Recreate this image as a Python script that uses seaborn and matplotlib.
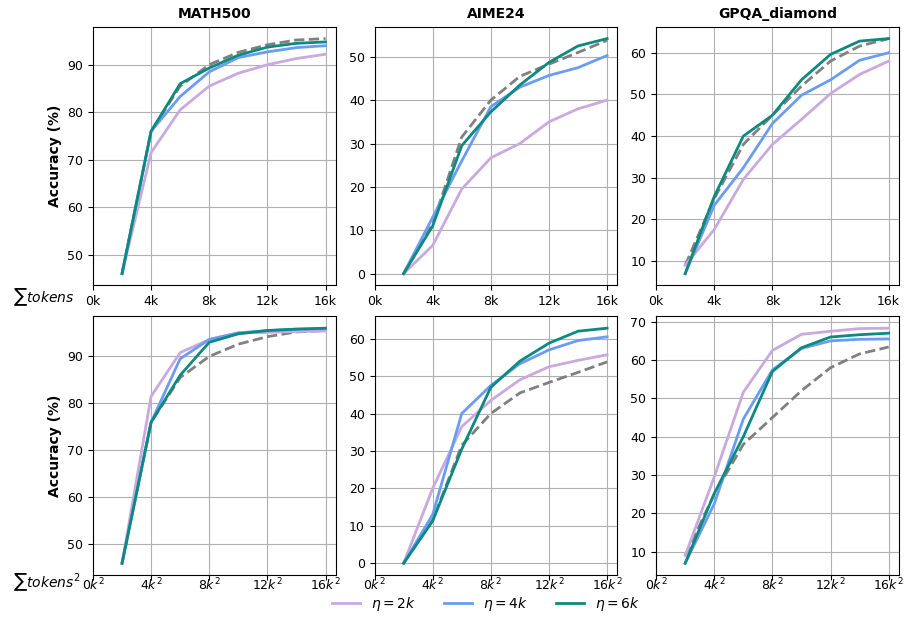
import numpy as np
import pandas as pd
import matplotlib
matplotlib.use('Agg')
import matplotlib.pyplot as plt
import seaborn as sns
from matplotlib.lines import Line2D

# budgets (k tokens)
budget = [2, 4, 6, 8, 10, 12, 14, 16]
datasets = ['MATH500', 'AIME24', 'GPQA_diamond']
etas = ['$\\eta=2k$', '$\\eta=4k$', '$\\eta=6k$']

# baseline (dashed), same in both rows
base_math = [46, 76, 85.5, 90, 92.6, 94.2, 95.2, 95.5]
base_aime = [0, 11.5, 31.5, 40, 45.5, 48.3, 51, 53.8]
base_gpqa = [9, 25, 38, 45, 52, 58, 61.6, 63.4]

# top row: sum tokens
top_math_2k = [46, 71.5, 80.5, 85.5, 88.2, 90, 91.3, 92.2]
top_math_4k = [46, 76, 83.3, 88.5, 91.5, 92.7, 93.6, 94.0]
top_math_6k = [46, 76, 86, 89.3, 92.0, 93.7, 94.5, 94.8]

top_aime_2k = [0, 6.5, 19.5, 26.7, 30, 35, 38, 40]
top_aime_4k = [0, 13, 26, 38.5, 43, 45.7, 47.5, 50.3]
top_aime_6k = [0, 11, 29.5, 37.3, 43.5, 48.7, 52.5, 54.2]

top_gpqa_2k = [9, 17.6, 29.6, 38, 44, 50.2, 54.8, 58]
top_gpqa_4k = [7, 23.4, 32.4, 43, 49.8, 53.5, 58.2, 60]
top_gpqa_6k = [7, 25.5, 40, 45, 53.5, 59.6, 62.8, 63.4]

# bottom row: sum tokens^2
bot_math_2k = [46, 81.5, 90.8, 93.6, 95, 95.1, 95.3, 95.4]
bot_math_4k = [46, 76, 89.5, 93.6, 95, 95.5, 95.8, 95.9]
bot_math_6k = [46, 76, 86, 93, 94.8, 95.5, 95.8, 96]

bot_aime_2k = [0, 20, 36.5, 43.5, 49, 52.5, 54.2, 55.7]
bot_aime_4k = [0, 13, 40, 47.5, 53.3, 57, 59.5, 60.5]
bot_aime_6k = [0, 11.3, 30.5, 47, 54, 58.8, 62, 62.8]

bot_gpqa_2k = [9, 29.5, 51.6, 62.5, 66.7, 67.5, 68.2, 68.3]
bot_gpqa_4k = [7, 22.5, 44.6, 57.4, 63, 65, 65.4, 65.5]
bot_gpqa_6k = [7, 25.2, 40, 57, 63.2, 66, 66.6, 67]

xticks = [0, 4, 8, 12, 16]
top_ticklabels = ['0k', '4k', '8k', '12k', '16k']
bot_ticklabels = ['0$k^2$', '4$k^2$', '8$k^2$', '12$k^2$', '16$k^2$']

colors = ['#c9a9e0', '#6b9cf5', '#0b8a80']

rows = [
    [[top_math_2k, top_math_4k, top_math_6k],
     [top_aime_2k, top_aime_4k, top_aime_6k],
     [top_gpqa_2k, top_gpqa_4k, top_gpqa_6k]],
    [[bot_math_2k, bot_math_4k, bot_math_6k],
     [bot_aime_2k, bot_aime_4k, bot_aime_6k],
     [bot_gpqa_2k, bot_gpqa_4k, bot_gpqa_6k]],
]
bases = [base_math, base_aime, base_gpqa]

recs = []
for r, row in enumerate(rows):
    for d, series in enumerate(row):
        for e, vals in enumerate(series):
            for b, v in zip(budget, vals):
                recs.append({'row': r, 'dataset': datasets[d], 'eta': etas[e], 'budget': b, 'acc': v})
df = pd.DataFrame(recs)

plt.rcParams['font.size'] = 9
fig, axes = plt.subplots(2, 3, figsize=(9.07, 6.24), dpi=100)
fig.subplots_adjust(left=0.1025, right=0.991, top=0.957, bottom=0.0785, wspace=0.16, hspace=0.12)

for r in range(2):
    for d in range(3):
        ax = axes[r, d]
        ax.grid(True, color='#b0b0b0', linewidth=0.8)
        ax.set_axisbelow(True)
        base_df = pd.DataFrame({'budget': budget, 'acc': bases[d]})
        sns.lineplot(data=base_df, x='budget', y='acc', color='gray', linestyle='--',
                     linewidth=2, ax=ax)
        sub = df[(df['row'] == r) & (df['dataset'] == datasets[d])]
        sns.lineplot(data=sub, x='budget', y='acc', hue='eta', hue_order=etas,
                     palette=colors, linewidth=2, ax=ax, legend=False)
        ax.set_xlim(left=0)
        ax.set_xticks(xticks)
        ax.set_xticklabels(top_ticklabels if r == 0 else bot_ticklabels)
        ax.set_xlabel('')
        ax.set_ylabel('')
        ax.tick_params(labelsize=9)
        if r == 1:
            ax.tick_params(axis='x', pad=-2)
        if r == 0:
            ax.set_title(datasets[d], fontweight='bold', fontsize=10)
        if d == 0:
            ax.set_ylabel('Accuracy (%)', fontweight='bold', fontsize=10)

fig.text(13 / 907, 1 - 297 / 624, '$\\sum tokens$', fontsize=10, va='center', ha='left')
fig.text(13 / 907, 1 - 582 / 624, '$\\sum tokens^2$', fontsize=10, va='center', ha='left')

handles = [Line2D([0], [0], color=c, lw=2) for c in colors]
fig.legend(handles, etas, loc='center', bbox_to_anchor=(0.536, 1 - 604 / 624),
           ncol=3, frameon=False, fontsize=10)

fig.savefig('out.png', dpi=100)
